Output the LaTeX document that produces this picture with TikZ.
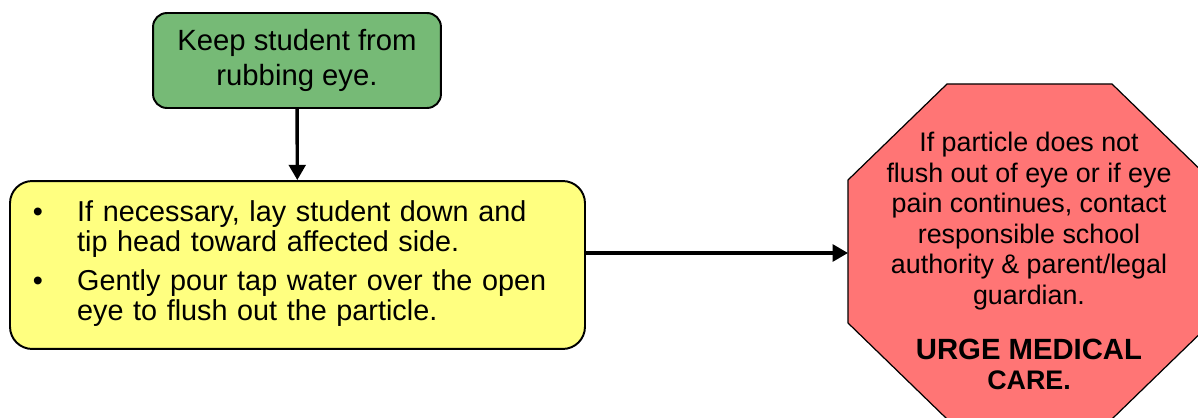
\documentclass[tikz,border=0pt]{standalone}
\usepackage{fontspec}
\setmainfont{Liberation Sans}
\usetikzlibrary{arrows.meta}
\definecolor{keepgreen}{RGB}{118,186,118}
\definecolor{tipyellow}{RGB}{255,255,128}
\definecolor{stopred}{RGB}{255,117,117}
\begin{document}
\begin{tikzpicture}[line cap=round,line join=round,x=0.0144cm,y=-0.0144cm,
  box/.style={draw,line width=0.8pt,rounded corners=0.2cm,inner sep=0pt},
  flow/.style={line width=1.4pt,-{Triangle[length=0.22cm,width=0.24cm]}}]
\useasboundingbox (0,0) rectangle (1198,418);
\clip (0,0) rectangle (1198,418);
\path
(297,60.5) coordinate (K)
(297.5,265) coordinate (T)
(947,84) coordinate (S1)
(1112,84) coordinate (S2)
(1211,180) coordinate (S3)
(1211,323) coordinate (S4)
(1112,419) coordinate (S5)
(947,419) coordinate (S6)
(848,323) coordinate (S7)
(848,180) coordinate (S8)
(848,253) coordinate (S)
(1029,261) coordinate (SC)
;
\node[box,fill=keepgreen,minimum width=4.147cm,minimum height=1.368cm,align=center,
  font=\fontsize{12}{14}\selectfont] (keep) at (K) {Keep student from\\rubbing eye.};
\node[box,fill=tipyellow,rounded corners=0.32cm,minimum width=8.28cm,minimum height=2.419cm,
  text width=7.62cm,inner xsep=0.331cm,font=\fontsize{11.8}{11.9}\selectfont] (tip) at (T)
  {\begin{tabular}{@{}l@{\hspace{14pt}}l@{}}
  \textbullet & If necessary, lay student down and\\
   & tip head toward affected side.\\[4.1pt]
  \textbullet & Gently pour tap water over the open\\
   & eye to flush out the particle.
  \end{tabular}};
\draw[fill=stopred,line width=0.5pt] (S1)--(S2)--(S3)--(S4)--(S5)--(S6)--(S7)--(S8)--cycle;
\node[align=center,font=\fontsize{11}{12.5}\selectfont] (care) at (SC)
  {If particle does not\\flush out of eye or if eye\\pain continues, contact\\
  responsible school\\authority \& parent/legal\\guardian.\\[10pt]
  \fontsize{12}{14.5}\selectfont\bfseries URGE MEDICAL\\\bfseries CARE.};
\draw[flow] (keep) -- (tip);
\draw[flow] (tip.east |- S) -- (S);
\end{tikzpicture}
\end{document}
